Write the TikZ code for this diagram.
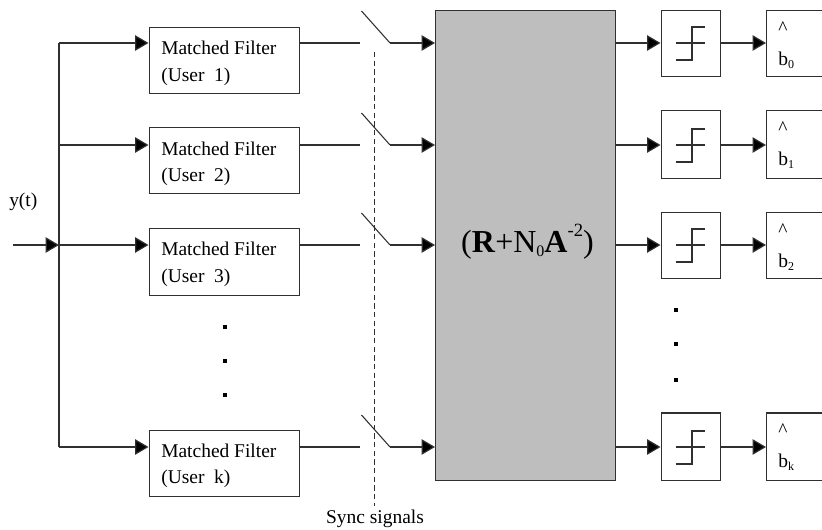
\documentclass[tikz,border=0pt]{standalone}
\usepackage{fontspec}
\setmainfont{Liberation Serif}
\usetikzlibrary{arrows.meta}
\definecolor{ln}{HTML}{303030}
\definecolor{blockgray}{HTML}{BEBEBE}
\tikzset{
  line/.style={draw=ln,line width=0.9pt},
  arr/.style={line,-{Triangle[length=10pt,width=11.5pt,fill=black]}},
  thin line/.style={draw=ln,line width=0.8pt},
  boxbase/.style={line,anchor=north west,inner sep=0pt,fill=white},
  lbl/.style={inner sep=0pt,font=\fontsize{14.6}{14.6}\selectfont,text=black},
  dotm/.style={fill=black,inner sep=0pt,minimum size=3pt}
}
\newcommand{\blockbox}[6]{% name x1 y1 x2 y2 opts
  \node[boxbase,#6,minimum width={(#4-#2)*0.75pt},minimum height={(#5-#3)*0.75pt}] (#1) at (#2,#3) {};}
\begin{document}
\begin{tikzpicture}[x=0.75pt,y=-0.75pt]
\clip (0,0) rectangle (822,530);
\fill[white] (0,0) rectangle (822,530);
% row levels
\coordinate (r1) at (0,43);
\coordinate (r2) at (0,145);
\coordinate (r3) at (0,245);
\coordinate (r4) at (0,447);
% matched filters
\blockbox{mf1}{148.5}{27}{299}{93}{}
\blockbox{mf2}{148.5}{127}{299}{193}{}
\blockbox{mf3}{148.5}{228}{299}{295}{}
\blockbox{mf4}{148.5}{430}{299}{496}{}
\node[lbl,anchor=base west] (t1a) at (161,55) {Matched Filter};
\node[lbl,anchor=base west] (t1b) at (161,82) {(User\ \ 1)};
\node[lbl,anchor=base west] (t2a) at (161,155.5) {Matched Filter};
\node[lbl,anchor=base west] (t2b) at (161,182) {(User\ \ 2)};
\node[lbl,anchor=base west] (t3a) at (161,256) {Matched Filter};
\node[lbl,anchor=base west] (t3b) at (161,283) {(User\ \ 3)};
\node[lbl,anchor=base west] (t4a) at (161,458) {Matched Filter};
\node[lbl,anchor=base west] (t4b) at (161,484) {(User\ \ k)};
% central block
\blockbox{gray}{435}{10}{614.5}{480}{fill=blockgray}
\node[inner sep=0pt,anchor=base,font=\fontsize{24}{24}\selectfont] (eq) at (527.5,253)
  {(\textbf{R}+N\raisebox{-0.1em}{\fontsize{12}{12}\selectfont 0}\textbf{A}\raisebox{0.5em}{\fontsize{14}{14}\selectfont -2})};
% thresholds
\blockbox{th1}{660.5}{10}{720}{76}{}
\blockbox{th2}{660.5}{110}{720}{178}{}
\blockbox{th3}{660.5}{212}{720}{278}{}
\blockbox{th4}{660.5}{412.5}{720}{480}{}
% outputs (running off the right edge)
\blockbox{ou1}{766}{10}{830}{76}{}
\blockbox{ou2}{766}{110}{830}{178}{}
\blockbox{ou3}{766}{212}{830}{278}{}
\blockbox{ou4}{766}{412.5}{830}{480}{}
% threshold glyphs
\foreach \r in {1,2,3,4}{
  \path (r\r) ++(675.5,0) coordinate (ga\r) ++(29.5,0) coordinate (gb\r);
  \path (r\r) ++(675.5,17) coordinate (gc\r) ++(16.5,0) coordinate (gd\r) ++(0,-33) coordinate (ge\r) ++(13,0) coordinate (gf\r);
  \draw[thin line] (ga\r) -- (gb\r);
  \draw[thin line] (gc\r) -- (gd\r) -- (ge\r) -- (gf\r);
}
% output labels
\node[lbl,anchor=base west] (h1) at (778,35) {\^{}};
\node[lbl,anchor=base west] (b1) at (778,66) {b\raisebox{-0.15em}{\fontsize{9}{9}\selectfont 0}};
\node[lbl,anchor=base west] (h2) at (778,135) {\^{}};
\node[lbl,anchor=base west] (b2) at (778,166) {b\raisebox{-0.15em}{\fontsize{9}{9}\selectfont 1}};
\node[lbl,anchor=base west] (h3) at (778,237) {\^{}};
\node[lbl,anchor=base west] (b3) at (778,268) {b\raisebox{-0.15em}{\fontsize{9}{9}\selectfont 2}};
\node[lbl,anchor=base west] (h4) at (778,437) {\^{}};
\node[lbl,anchor=base west] (b4) at (778,468) {b\raisebox{-0.15em}{\fontsize{9}{9}\selectfont k}};
% input and trunk
\coordinate (in) at (13,245);
\coordinate (tk) at (59,245);
\coordinate (tt) at (59,43);
\coordinate (tb) at (59,447);
\draw[arr] (in) -- (tk);
\draw[line] (tt) -- (tb);
\draw[arr] (tt) -- (mf1.west|-r1);
\draw[arr] (tk|-r2) -- (mf2.west|-r2);
\draw[arr] (tk) -- (mf3.west|-r3);
\draw[arr] (tb) -- (mf4.west|-r4);
\node[lbl,anchor=base west] (yt) at (9,207) {y(t)};
% switches and downstream connectors
\foreach \r in {1,2,3,4}{
  \path (r\r) ++(360,0) coordinate (so\r) ++(30,0) coordinate (sp\r) ++(-28.5,-32) coordinate (sq\r);
  \draw[line] (mf\r.east|-r\r) -- (so\r);
  \draw[thin line] (sq\r) -- (sp\r);
  \draw[arr] (sp\r) -- (gray.west|-r\r);
  \draw[arr] (gray.east|-r\r) -- (th\r.west|-r\r);
  \draw[arr] (th\r.east|-r\r) -- (ou\r.west|-r\r);
}
% sync line
\coordinate (sy1) at (374.5,52);
\coordinate (sy2) at (374.5,506);
\draw[thin line,dash pattern=on 4pt off 2.5pt] (sy1) -- (sy2);
\node[lbl,anchor=base] (sync) at (375,524) {Sync signals};
% dots
\node[dotm] (d1) at (224.5,327) {};
\node[dotm] (d2) at (224.5,361) {};
\node[dotm] (d3) at (224.5,395.5) {};
\node[dotm] (d4) at (676,309.6) {};
\node[dotm] (d5) at (676,344) {};
\node[dotm] (d6) at (676,380) {};
\end{tikzpicture}
\end{document}
